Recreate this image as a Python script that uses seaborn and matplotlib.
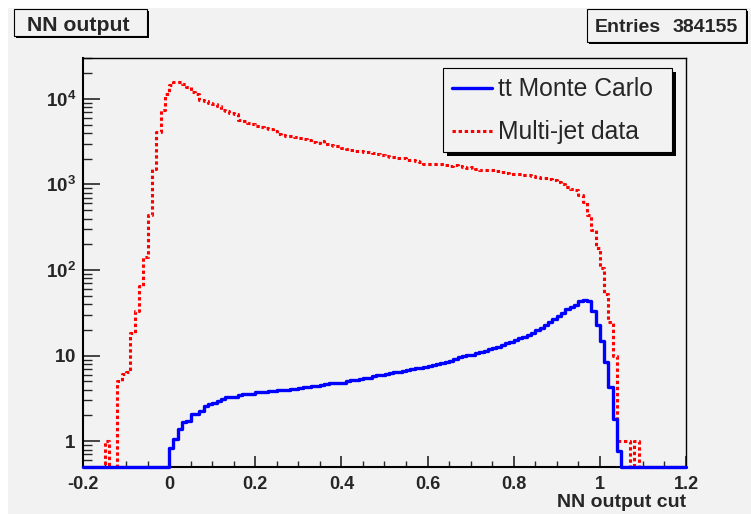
import numpy as np
import matplotlib
matplotlib.use("Agg")
import matplotlib.pyplot as plt
from matplotlib.patches import Rectangle
from matplotlib.lines import Line2D
from matplotlib.ticker import FixedLocator, FixedFormatter
import seaborn as sns


# histogram binning: 140 bins of width 0.01 from -0.2 to 1.2
X_MIN = -0.2
X_MAX = 1.2
N_BINS = 140

# tt Monte Carlo, per bin (bins 0..139)
tt_mc = [
    0, 0, 0, 0, 0, 0, 0, 0, 0, 0,
    0, 0, 0, 0, 0, 0, 0, 0, 0, 0,
    0.83, 1.06, 1.39, 1.69, 1.74, 2.08, 2.08, 2.27, 2.59, 2.71,
    2.79, 2.96, 3.10, 3.25, 3.30, 3.33, 3.45, 3.52, 3.58, 3.61,
    3.71, 3.74, 3.81, 3.84, 3.87, 3.94, 3.94, 3.98, 4.13, 4.13,
    4.20, 4.32, 4.32, 4.40, 4.43, 4.51, 4.64, 4.77, 4.73, 4.77,
    4.85, 5.02, 5.16, 5.25, 5.40, 5.45, 5.54, 5.80, 5.87, 5.95,
    6.12, 6.27, 6.38, 6.51, 6.62, 6.80, 6.92, 7.11, 7.24, 7.44,
    7.57, 7.78, 8.07, 8.29, 8.52, 8.75, 9.05, 9.63, 9.90, 10.1,
    10.3, 10.7, 11.0, 11.4, 11.8, 12.3, 12.7, 13.2, 13.9, 14.5,
    15.2, 15.9, 16.6, 17.5, 18.5, 19.7, 21.2, 22.7, 24.6, 26.9,
    29.4, 31.6, 34.6, 37.1, 39.4, 43.1, 44.3, 43.8, 32.9, 23.1,
    14.9, 8.4, 4.3, 1.82, 0.76, 0, 0, 0, 0, 0,
    0, 0, 0, 0, 0, 0, 0, 0, 0, 0,
]

# multi-jet data, per bin
multijet = [
    0, 0, 0, 0, 0, 1, 0, 0, 5.1, 6.1,
    6.4, 18.5, 33, 65, 142, 440, 1535, 4090, 7450, 11400,
    14700, 15900, 15700, 14900, 13600, 11900, 11400, 9800, 9350, 8890,
    8650, 8290, 7310, 7120, 6800, 6610, 5590, 5490, 5260, 5120,
    4850, 4640, 4560, 4430, 4200, 3920, 3810, 3720, 3650, 3590,
    3530, 3430, 3280, 3100, 3050, 3200, 2940, 2890, 2790, 2810,
    2640, 2580, 2540, 2470, 2460, 2390, 2370, 2350, 2250, 2190,
    2160, 2090, 2080, 2040, 2010, 1950, 1920, 1860, 1810, 1720,
    1710, 1740, 1750, 1720, 1690, 1660, 1680, 1640, 1600, 1560,
    1580, 1520, 1490, 1470, 1490, 1470, 1440, 1400, 1360, 1320,
    1310, 1320, 1300, 1280, 1260, 1220, 1200, 1190, 1160, 1140,
    1080, 1020, 940, 880, 850, 760, 630, 440, 294, 180,
    105, 53, 25, 9.9, 1, 1, 1, 0, 1, 0,
    0, 0, 0, 0, 0, 0, 0, 0, 0, 0,
]

x_ticks = [-0.2, 0, 0.2, 0.4, 0.6, 0.8, 1, 1.2]
x_tick_labels = ["-0.2", "0", "0.2", "0.4", "0.6", "0.8", "1", "1.2"]
y_ticks = [1, 10, 100, 1000, 10000]
y_tick_labels = [r"$\mathbf{1}$", r"$\mathbf{10}$", r"$\mathbf{10^{2}}$",
                 r"$\mathbf{10^{3}}$", r"$\mathbf{10^{4}}$"]

Y_MIN = 0.5
Y_MAX = 3.0e4

W, H = 751, 514
BG = "#f2f2f2"


def fx(x):
    return x / W


def fy(y):
    return 1 - y / H


def box(fig, x0, y0, x1, y1, shadow):
    # ROOT style box with black drop shadow
    fig.add_artist(Rectangle((fx(x0 + shadow), fy(y1 + shadow)),
                             (x1 - x0) / W, (y1 - y0) / H,
                             transform=fig.transFigure, facecolor="black",
                             edgecolor="black", lw=0, zorder=5))
    fig.add_artist(Rectangle((fx(x0), fy(y1)),
                             (x1 - x0) / W, (y1 - y0) / H,
                             transform=fig.transFigure, facecolor=BG,
                             edgecolor="black", lw=0.8, zorder=6))


def main():

    sns.set_style("ticks")
    plt.rcParams["font.family"] = ["Liberation Sans", "DejaVu Sans"]
    plt.rcParams["mathtext.fontset"] = "custom"
    plt.rcParams["mathtext.rm"] = "Liberation Sans"
    plt.rcParams["mathtext.bf"] = "Liberation Sans:bold"

    edges = np.linspace(X_MIN, X_MAX, N_BINS + 1)

    fig = plt.figure(figsize=(W / 100, H / 100), dpi=100)
    fig.patch.set_facecolor("white")

    # grey canvas (white strip left and top)
    fig.add_artist(Rectangle((fx(8), 0), 1 - fx(8), fy(8),
                             transform=fig.transFigure, facecolor=BG,
                             edgecolor="none", zorder=-10))

    ax = fig.add_axes([fx(83), fy(467), (686 - 83) / W, (467 - 58) / H])
    ax.set_facecolor(BG)

    mj = np.array(multijet, dtype=float)
    tt = np.array(tt_mc, dtype=float)
    mj_plot = np.append(np.where(mj > 0, mj, Y_MIN), Y_MIN)
    tt_plot = np.append(np.where(tt > 0, tt, Y_MIN), Y_MIN)

    sns.lineplot(x=edges, y=mj_plot, ax=ax, drawstyle="steps-post",
                 color="#ff0000", lw=2.2, linestyle=(0, (1.1, 0.9)),
                 clip_on=False, zorder=3)
    sns.lineplot(x=edges, y=tt_plot, ax=ax, drawstyle="steps-post",
                 color="#0000ff", lw=2.4, clip_on=False, zorder=4)

    ax.set_yscale("log")
    ax.set_xlim(X_MIN, X_MAX)
    ax.set_ylim(Y_MIN, Y_MAX)

    ax.xaxis.set_major_locator(FixedLocator(x_ticks))
    ax.xaxis.set_major_formatter(FixedFormatter(x_tick_labels))
    ax.xaxis.set_minor_locator(FixedLocator(np.arange(-0.2, 1.2001, 0.05)))
    ax.yaxis.set_major_locator(FixedLocator(y_ticks))
    ax.yaxis.set_major_formatter(FixedFormatter(y_tick_labels))
    minor_y = [m * 10 ** e for e in range(-1, 5) for m in range(2, 10)]
    minor_y = [v for v in minor_y if Y_MIN <= v <= Y_MAX]
    ax.yaxis.set_minor_locator(FixedLocator(minor_y))
    ax.yaxis.set_minor_formatter(FixedFormatter([""] * len(minor_y)))

    ax.tick_params(axis="x", which="major", direction="in", length=8,
                   width=1.2, pad=6.5, labelsize=13, top=False)
    ax.tick_params(axis="x", which="minor", direction="in", length=4.5,
                   width=1.0, top=False)
    ax.tick_params(axis="y", which="major", direction="in", length=12.5,
                   width=1.2, pad=5, labelsize=13.5, right=False)
    ax.tick_params(axis="y", which="minor", direction="in", length=6.5,
                   width=1.0, right=False)
    for lab in ax.get_xticklabels():
        lab.set_fontweight("bold")

    for side in ["left", "bottom"]:
        ax.spines[side].set_linewidth(1.5)
        ax.spines[side].set_color("black")
    for side in ["top", "right"]:
        ax.spines[side].set_linewidth(1.0)
        ax.spines[side].set_color("black")
        ax.spines[side].set_visible(True)

    ax.set_xlabel("")
    ax.set_ylabel("")
    fig.text(fx(686), fy(507), "NN output cut", ha="right", va="baseline",
             fontsize=14, fontweight="bold")

    # title box
    box(fig, 14, 9, 147, 36, 2)
    fig.text(fx(27), fy(31), "NN output", ha="left", va="baseline",
             fontsize=15.3, fontweight="bold", zorder=7)

    # stats box
    box(fig, 587, 9, 746, 42, 2)
    fig.text(fx(595), fy(32), "Entries", ha="left", va="baseline",
             fontsize=14, fontweight="bold", zorder=7)
    fig.text(fx(738), fy(32), "384155", ha="right", va="baseline",
             fontsize=14, fontweight="bold", zorder=7)

    # legend
    box(fig, 443, 68, 672, 152, 4)
    fig.add_artist(Line2D([fx(452), fx(492)], [fy(88), fy(88)],
                          transform=fig.transFigure, color="#0000ff",
                          lw=2.4, zorder=7))
    fig.add_artist(Line2D([fx(452), fx(492)], [fy(131), fy(131)],
                          transform=fig.transFigure, color="#ff0000",
                          lw=2.2, linestyle=(0, (1.1, 0.9)), zorder=7))
    fig.text(fx(498), fy(96), "tt Monte Carlo", ha="left", va="baseline",
             fontsize=17.8, zorder=7)
    fig.text(fx(498), fy(139), "Multi-jet data", ha="left", va="baseline",
             fontsize=17.8, zorder=7)

    fig.savefig("out.png", dpi=100, facecolor=fig.get_facecolor())
    plt.close(fig)


if __name__ == "__main__":

    main()
